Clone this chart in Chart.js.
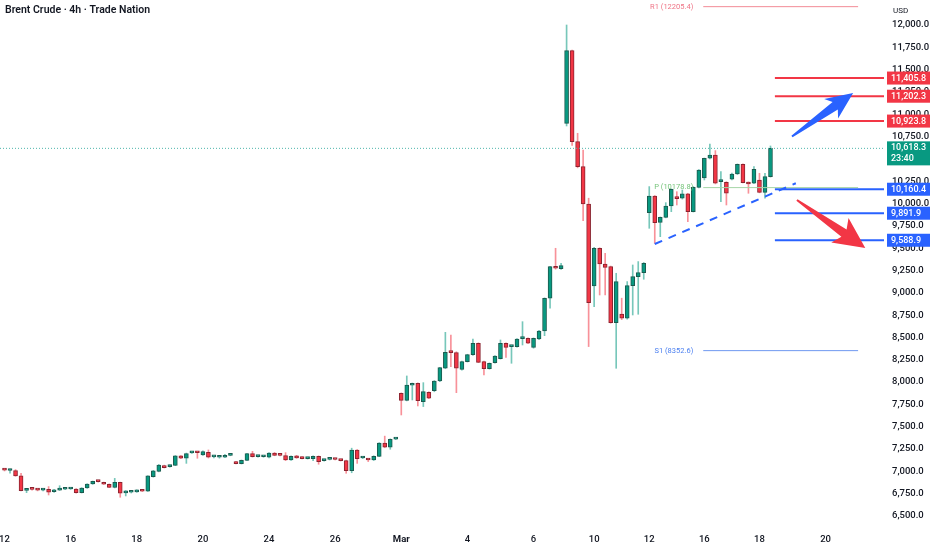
<!DOCTYPE html>
<html>
<head>
<meta charset="utf-8">
<script src="https://cdn.jsdelivr.net/npm/chart.js@4.4.1/dist/chart.umd.min.js"></script>
<style>
  html, body { margin: 0; padding: 0; background: #fff; }
  #wrap { width: 932px; height: 550px; }
</style>
</head>
<body>
<div id="wrap"><canvas id="brent-chart"></canvas></div>
<script>
// 4h candles, one entry per bar (index = bar number)
const opens = [
  7016, 7010, 7008, 6949, 6788, 6800, 6792, 6790, 6800, 6772,
  6790, 6800, 6803, 6802, 6762, 6814, 6859, 6887, 6875, 6856,
  6820, 6877, 6760, 6766, 6770, 6790, 6778, 6941, 7000, 7065,
  7053, 7068, 7173, 7147, 7208, 7210, 7184, 7214, 7163, 7158,
  7158, 7180, 7106, 7087, 7124, 7199, 7165, 7164, 7158, 7206,
  7180, 7177, 7128, 7173, 7158, 7143, 7143, 7169, 7121, 7135,
  7135, 7123, 7121, 7009, 7240, 7150, 7130, 7128, 7169, 7318,
  7270, 7362, 7875, 7796, 7965, 7987, 7782, 7886, 7905, 8013,
  8155, 8341, 8330, 8143, 8230, 8308, 8435, 8230, 8151, 8218,
  8263, 8435, 8397, 8397, 8487, 8490, 8390, 8483, 8573, 8939,
  9294, 9271, 10899, 11713, 10693, 10413, 9995, 9077, 9499, 9323,
  9293, 8666, 8763, 8715, 9081, 9182, 9227, 9898, 10085, 9790,
  9846, 9973, 10070, 10059, 10108, 9910, 10182, 10287, 10507, 10544,
  10245, 10238, 10272, 10331, 10440, 10238, 10227, 10264, 10126, 10302
];
const highs = [
  7030, 7025, 7020, 6978, 6800, 6806, 6800, 6798, 6830, 6800,
  6840, 6806, 6810, 6808, 6818, 6862, 6892, 6893, 6880, 6860,
  6922, 6880, 6785, 6772, 6794, 6796, 6952, 7012, 7078, 7070,
  7072, 7178, 7178, 7205, 7215, 7222, 7230, 7240, 7172, 7165,
  7190, 7186, 7112, 7128, 7203, 7225, 7172, 7170, 7212, 7212,
  7185, 7210, 7175, 7180, 7163, 7148, 7175, 7174, 7128, 7141,
  7140, 7128, 7126, 7260, 7245, 7156, 7135, 7175, 7322, 7395,
  7365, 7368, 7880, 8069, 7990, 7992, 7994, 7892, 8018, 8166,
  8558, 8528, 8340, 8236, 8312, 8483, 8440, 8236, 8215, 8296,
  8472, 8440, 8402, 8487, 8677, 8495, 8495, 8580, 8944, 9297,
  9499, 9330, 12000, 11720, 10787, 10600, 10060, 9510, 9505, 9443,
  9300, 9219, 8940, 9126, 9312, 9350, 9340, 10190, 10090, 9850,
  10010, 10165, 10133, 10152, 10115, 10190, 10380, 10510, 10667, 10593,
  10357, 10245, 10340, 10444, 10445, 10243, 10413, 10339, 10339, 10645
];
const lows = [
  7005, 6980, 6945, 6780, 6762, 6790, 6782, 6780, 6736, 6765,
  6786, 6795, 6798, 6755, 6758, 6810, 6855, 6880, 6853, 6818,
  6815, 6710, 6725, 6758, 6765, 6774, 6775, 6935, 6995, 7038,
  7048, 7064, 7143, 7090, 7202, 7147, 7178, 7150, 7150, 7148,
  7155, 7175, 7083, 7083, 7120, 7160, 7158, 7158, 7150, 7175,
  7174, 7120, 7122, 7146, 7140, 7138, 7120, 7080, 7114, 7128,
  7129, 7116, 6979, 6985, 7090, 7143, 7110, 7122, 7165, 7265,
  7248, 7356, 7632, 7790, 7800, 7733, 7726, 7815, 7892, 8005,
  8150, 8173, 7882, 8135, 8225, 8300, 8218, 8080, 8145, 8212,
  8258, 8278, 8211, 8392, 8416, 8430, 8380, 8475, 8520, 8827,
  9265, 9262, 10869, 10650, 10400, 9809, 8398, 8846, 8976, 8976,
  8660, 8155, 8700, 8705, 8752, 8760, 9152, 9723, 9555, 9629,
  9840, 9909, 9984, 10050, 9797, 9905, 10176, 10264, 10500, 10220,
  10021, 9984, 10265, 10325, 10230, 10115, 10222, 10120, 10059, 10296
];
const closes = [
  7014, 7016, 6949, 6785, 6792, 6798, 6790, 6791, 6766, 6790,
  6800, 6801, 6803, 6762, 6814, 6859, 6889, 6885, 6856, 6820,
  6877, 6755, 6762, 6767, 6790, 6778, 6949, 7005, 7072, 7042,
  7068, 7173, 7147, 7199, 7210, 7209, 7221, 7158, 7165, 7158,
  7180, 7180, 7087, 7124, 7199, 7165, 7166, 7165, 7206, 7180,
  7179, 7128, 7169, 7150, 7143, 7143, 7169, 7109, 7121, 7135,
  7133, 7121, 7009, 7240, 7143, 7150, 7128, 7169, 7318, 7270,
  7360, 7363, 7796, 7968, 7987, 7793, 7894, 7819, 8013, 8162,
  8334, 8330, 8155, 8230, 8308, 8435, 8222, 8151, 8211, 8293,
  8435, 8390, 8397, 8483, 8490, 8435, 8490, 8573, 8939, 9293,
  9275, 9305, 11713, 10693, 10413, 9995, 8890, 9499, 9323, 9286,
  8666, 9126, 8715, 9081, 9182, 9227, 9331, 10085, 9786, 9846,
  9973, 10160, 10055, 10108, 9910, 10182, 10376, 10507, 10544, 10227,
  10245, 10115, 10331, 10440, 10234, 10219, 10383, 10126, 10302, 10618.3
];

// day labels along the time axis (bar index where each day starts)
const dayTickIdx = [0, 12, 24, 36, 48, 60, 72, 84, 96, 107, 117, 127, 137, 149];
const dayTickLabels = ['12', '16', '18', '20', '24', '26', 'Mar', '4', '6', '10', '12', '16', '18', '20'];

const priceTicks = [6500, 6750, 7000, 7250, 7500, 7750, 8000, 8250, 8500, 8750, 9000, 9250,
  9500, 9750, 10000, 10250, 10500, 10750, 11000, 11250, 11500, 11750, 12000];

const resistanceLevels = [11405.8, 11202.3, 10923.8];
const supportLevels = [10160.4, 9891.9, 9588.9];
const pivotNames = ['R1', 'P', 'S1'];
const pivotValues = [12205.4, 10178.8, 8352.6];
const lastPrice = 10618.3;
const barTimer = '23:40';

// drawing anchors in (bar index, price)
const trendStart = [118.0, 9547];
const trendEnd = [143.6, 10227];
const levelStartIdx = 139.8;
const pivotStartIdx = 126.8;
const pivotEndIdx = 154.9;
const arrowUp = { from: [142.9, 10751], to: [154.0, 11238], color: '#2962ff' };
const arrowDown = { from: [143.8, 10040], to: [156.2, 9502], color: '#f23645' };

const xMin = -0.82, xMax = 159.6;
const yMin = 6366, yMax = 12280;

const UP = '#089981', DOWN = '#f23645';
const FONT = 'Roboto';
const isUp = i => closes[i] >= opens[i];

const wicks = opens.map((o, i) => ({ x: i, y: [lows[i], highs[i]] }));
const bodies = opens.map((o, i) => ({ x: i, y: [o, closes[i]] }));

const fmt = v => v.toLocaleString('en-US', { minimumFractionDigits: 1, maximumFractionDigits: 1 });

function hLine(value, from, to, color, width, dash) {
  return {
    type: 'line',
    data: [{ x: from, y: value }, { x: to, y: value }],
    borderColor: color,
    borderWidth: width,
    borderDash: dash || [],
    pointRadius: 0,
    fill: false,
    order: 0
  };
}

const pivotColors = ['#f28b96', '#a5d6a7', '#6f98f0'];
const pivotTextColors = ['#ef7486', '#76c47b', '#4a7ff0'];

const datasets = [
  {
    label: 'wicks',
    data: wicks,
    backgroundColor: ctx => isUp(ctx.dataIndex) ? 'rgba(8,153,129,0.55)' : 'rgba(242,54,69,0.55)',
    barThickness: 1,
    minBarLength: 1,
    grouped: false,
    order: 3
  },
  {
    label: 'bodies',
    data: bodies,
    backgroundColor: ctx => isUp(ctx.dataIndex) ? UP : DOWN,
    borderColor: ctx => isUp(ctx.dataIndex) ? '#1c5a4e' : '#8a2430',
    borderWidth: 1,
    borderSkipped: false,
    barThickness: 4,
    minBarLength: 2,
    grouped: false,
    order: 2
  },
  hLine(lastPrice, xMin, xMax, '#4db6ac', 1, [1, 2]),
  {
    type: 'line',
    data: [{ x: trendStart[0], y: trendStart[1] }, { x: trendEnd[0], y: trendEnd[1] }],
    borderColor: '#2962ff',
    borderWidth: 2,
    borderDash: [8, 7],
    pointRadius: 0,
    fill: false,
    order: 0
  }
];
pivotValues.forEach((v, k) => datasets.push(hLine(v, pivotStartIdx, pivotEndIdx, pivotColors[k], 1)));
resistanceLevels.forEach(v => datasets.push(hLine(v, levelStartIdx, xMax, '#f23645', 2)));
supportLevels.forEach(v => datasets.push(hLine(v, levelStartIdx, xMax, '#2962ff', 2)));

function drawArrow(ctx, x1, y1, x2, y2, color, headLen, headW) {
  const dx = x2 - x1, dy = y2 - y1, len = Math.hypot(dx, dy);
  const ux = dx / len, uy = dy / len, nx = -uy, ny = ux;
  const neckW = 4.5, tailW = 1;
  const bx = x2 - ux * headLen, by = y2 - uy * headLen;
  const cx = x2 - ux * (headLen + 5), cy = y2 - uy * (headLen + 5);
  ctx.save();
  ctx.fillStyle = color;
  ctx.beginPath();
  ctx.moveTo(x1 + nx * tailW, y1 + ny * tailW);
  ctx.lineTo(bx + nx * neckW, by + ny * neckW);
  ctx.lineTo(cx + nx * headW, cy + ny * headW);
  ctx.lineTo(x2, y2);
  ctx.lineTo(cx - nx * headW, cy - ny * headW);
  ctx.lineTo(bx - nx * neckW, by - ny * neckW);
  ctx.lineTo(x1 - nx * tailW, y1 - ny * tailW);
  ctx.closePath();
  ctx.fill();
  ctx.restore();
}

const overlay = {
  id: 'overlay',
  afterDatasetsDraw(chart) {
    const { ctx, scales: { x, y } } = chart;
    // pivot labels
    ctx.save();
    ctx.font = '7.5px ' + FONT;
    ctx.textAlign = 'right';
    ctx.textBaseline = 'middle';
    pivotValues.forEach((v, k) => {
      ctx.fillStyle = pivotTextColors[k];
      ctx.fillText(pivotNames[k] + ' (' + v.toFixed(1) + ')', x.getPixelForValue(pivotStartIdx) - 10, y.getPixelForValue(v));
    });
    ctx.restore();
    drawArrow(ctx, x.getPixelForValue(arrowUp.from[0]), y.getPixelForValue(arrowUp.from[1]),
      x.getPixelForValue(arrowUp.to[0]), y.getPixelForValue(arrowUp.to[1]), arrowUp.color, 22, 12);
    drawArrow(ctx, x.getPixelForValue(arrowDown.from[0]), y.getPixelForValue(arrowDown.from[1]),
      x.getPixelForValue(arrowDown.to[0]), y.getPixelForValue(arrowDown.to[1]), arrowDown.color, 26, 15);
  },
  afterDraw(chart) {
    const { ctx, chartArea, scales: { y } } = chart;
    const bx = chartArea.right + 3, bw = 43;
    ctx.save();
    ctx.font = '500 9px ' + FONT;
    ctx.textBaseline = 'middle';
    ctx.textAlign = 'left';
    const box = (v, color) => {
      const py = y.getPixelForValue(v);
      ctx.fillStyle = color;
      ctx.fillRect(bx, py - 6.5, bw, 13);
      ctx.fillStyle = '#fff';
      ctx.fillText(fmt(v), bx + 4, py + 0.5);
    };
    resistanceLevels.forEach(v => box(v, '#f23645'));
    supportLevels.forEach(v => box(v, '#2962ff'));
    const lp = y.getPixelForValue(lastPrice);
    ctx.fillStyle = UP;
    ctx.fillRect(bx, lp - 7, bw, 24);
    ctx.fillStyle = '#fff';
    ctx.fillText(fmt(lastPrice), bx + 4, lp - 1);
    ctx.fillText(barTimer, bx + 4, lp + 10);
    // currency tag and title
    ctx.fillStyle = '#131722';
    ctx.font = '8px ' + FONT;
    ctx.fillText('USD', chartArea.right + 9, 11);
    ctx.font = '600 10.5px ' + FONT;
    ctx.fillText('Brent Crude \u00b7 4h \u00b7 Trade Nation', 5, 10);
    ctx.restore();
  }
};

new Chart(document.getElementById('brent-chart'), {
  type: 'bar',
  data: { datasets },
  options: {
    responsive: true,
    maintainAspectRatio: false,
    animation: false,
    layout: { padding: 0 },
    plugins: { legend: { display: false }, tooltip: { enabled: false }, title: { display: false } },
    scales: {
      x: {
        type: 'linear',
        min: xMin,
        max: xMax,
        offset: false,
        grid: { display: false, drawTicks: false },
        border: { display: false },
        afterBuildTicks: scale => { scale.ticks = dayTickIdx.map(v => ({ value: v })); },
        afterFit: scale => { scale.height = 22; scale.paddingLeft = 0; scale.paddingRight = 0; },
        ticks: {
          autoSkip: false,
          maxRotation: 0,
          padding: 6,
          color: '#131722',
          font: ctx => ({ family: FONT, size: 9.5, weight: ctx.tick && ctx.tick.value === 72 ? 'bold' : '500' }),
          callback: (v, idx) => dayTickLabels[idx]
        }
      },
      y: {
        position: 'right',
        min: yMin,
        max: yMax,
        grid: { display: false, drawTicks: false },
        border: { display: false },
        afterBuildTicks: scale => { scale.ticks = priceTicks.map(v => ({ value: v })); },
        afterFit: scale => { scale.width = 48; scale.paddingTop = 0; scale.paddingBottom = 0; },
        ticks: {
          padding: 8,
          color: '#131722',
          font: { family: FONT, size: 9.5, weight: '500' },
          callback: v => fmt(v)
        }
      }
    }
  },
  plugins: [overlay]
});
</script>
</body>
</html>
